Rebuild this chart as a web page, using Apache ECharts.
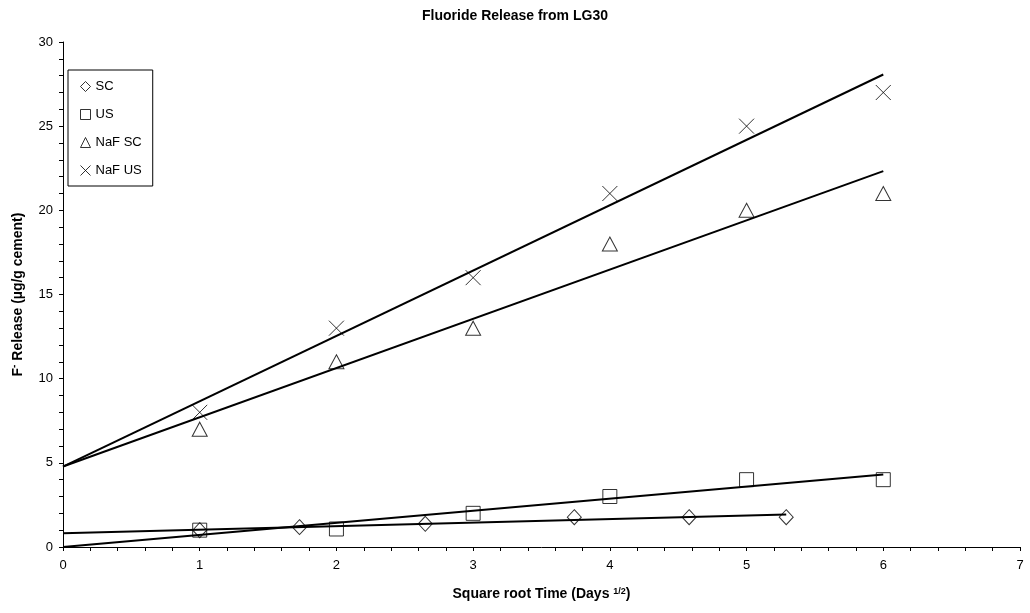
<!DOCTYPE html>
<html>
<head>
<meta charset="utf-8">
<script src="https://cdn.jsdelivr.net/npm/echarts@6/dist/echarts.min.js"></script>
<style>
  html, body { margin: 0; padding: 0; background: #fff; }
  #Main { width: 1030px; height: 613px; }
</style>
</head>
<body>
<div id="Main"></div>
<script>
var myChart = echarts.init(document.getElementById("Main"));

// 数据
var scX = [1, 1.73, 2.65, 3.74, 4.58, 5.29];
var scY = [1.0, 1.18, 1.38, 1.77, 1.77, 1.77];
var usX = [1, 2, 3, 4, 5, 6];
var usY = [1.0, 1.07, 2.0, 3.0, 4.0, 4.0];
var nafX = [1, 2, 3, 4, 5, 6];
var nafScY = [7, 11, 13, 18, 20, 21];
var nafUsY = [8, 13, 16, 21, 25, 27];

// trend line end points
var scFit = [[0, 0.82], [5.29, 1.93]];
var usFit = [[0, 0], [6, 4.31]];
var nafScFit = [[0, 4.78], [6, 22.33]];
var nafUsFit = [[0, 4.78], [6, 28.07]];

var seriesNames = ['SC', 'US', 'NaF SC', 'NaF US'];

function pairs(xs, ys) {
    return xs.map(function (x, i) { return [x, ys[i]]; });
}

var font = 'Liberation Sans, Arial, sans-serif';
var xPath = 'path://M0,0L10,10M10,0L0,10';

function markerSeries(name, symbol, size, data) {
    return {
        name: name,
        type: 'scatter',
        symbol: symbol,
        symbolSize: size,
        data: data,
        itemStyle: { color: 'rgba(0,0,0,0)', borderColor: '#000', borderWidth: 1 },
        z: 2
    };
}

function fitSeries(name, data) {
    return {
        name: name,
        type: 'line',
        data: data,
        showSymbol: false,
        symbol: 'none',
        lineStyle: { color: '#000', width: 2 },
        z: 3
    };
}

var option = {
    animation: false,
    backgroundColor: '#fff',
    textStyle: { fontFamily: font },
    title: {
        text: 'Fluoride Release from LG30',
        left: 'center',
        top: 4,
        textStyle: { fontSize: 14, fontWeight: 'bold', color: '#000', fontFamily: font }
    },
    legend: {
        data: seriesNames,
        orient: 'vertical',
        left: 68,
        top: 70,
        padding: [10, 11, 9, 12],
        itemWidth: 10,
        itemHeight: 10,
        itemGap: 15,
        borderColor: '#000',
        borderWidth: 1,
        itemStyle: { borderWidth: 1, borderColor: '#000', color: 'rgba(0,0,0,0)' },
        textStyle: { fontSize: 13, color: '#000', fontFamily: font }
    },
    grid: {
        left: 63,
        top: 42,
        right: 10,
        bottom: 66
    },
    xAxis: {
        type: 'value',
        min: 0,
        max: 7,
        interval: 1,
        name: '{t|Square root Time (Days }{s|1/2}{t|)}',
        nameLocation: 'middle',
        nameGap: 40,
        nameTextStyle: {
            rich: {
                t: { fontSize: 14, fontWeight: 'bold', color: '#000', fontFamily: font },
                s: { fontSize: 9, fontWeight: 'bold', color: '#000', fontFamily: font, verticalAlign: 'top', padding: [0, 0, 6, 0] }
            }
        },
        axisLine: { lineStyle: { color: '#000', width: 1 } },
        axisTick: { show: true, length: 4, lineStyle: { color: '#000' } },
        minorTick: { show: true, splitNumber: 5, length: 4, lineStyle: { color: '#000' } },
        splitLine: { show: false },
        axisLabel: { fontSize: 13, color: '#000', margin: 12, fontFamily: font }
    },
    yAxis: {
        type: 'value',
        min: 0,
        max: 30,
        interval: 5,
        name: '{t|F}{s|-}{t| Release (µg/g cement)}',
        nameLocation: 'middle',
        nameGap: 36,
        nameTextStyle: {
            rich: {
                t: { fontSize: 14, fontWeight: 'bold', color: '#000', fontFamily: font },
                s: { fontSize: 10, fontWeight: 'bold', color: '#000', fontFamily: font, verticalAlign: 'top', padding: [0, 0, 8, 0] }
            }
        },
        axisLine: { show: true, lineStyle: { color: '#000', width: 1 } },
        axisTick: { show: true, length: 4, lineStyle: { color: '#000' } },
        minorTick: { show: true, splitNumber: 5, length: 4, lineStyle: { color: '#000' } },
        splitLine: { show: false },
        axisLabel: { fontSize: 13, color: '#000', margin: 10, fontFamily: font }
    },
    series: [
        markerSeries('SC', 'diamond', [14, 15], pairs(scX, scY)),
        markerSeries('US', 'rect', 14, pairs(usX, usY)),
        markerSeries('NaF SC', 'triangle', [15, 14], pairs(nafX, nafScY)),
        markerSeries('NaF US', xPath, 15, pairs(nafX, nafUsY)),
        fitSeries('SC fit', scFit),
        fitSeries('US fit', usFit),
        fitSeries('NaF SC fit', nafScFit),
        fitSeries('NaF US fit', nafUsFit)
    ]
};
myChart.setOption(option);
</script>
</body>
</html>
